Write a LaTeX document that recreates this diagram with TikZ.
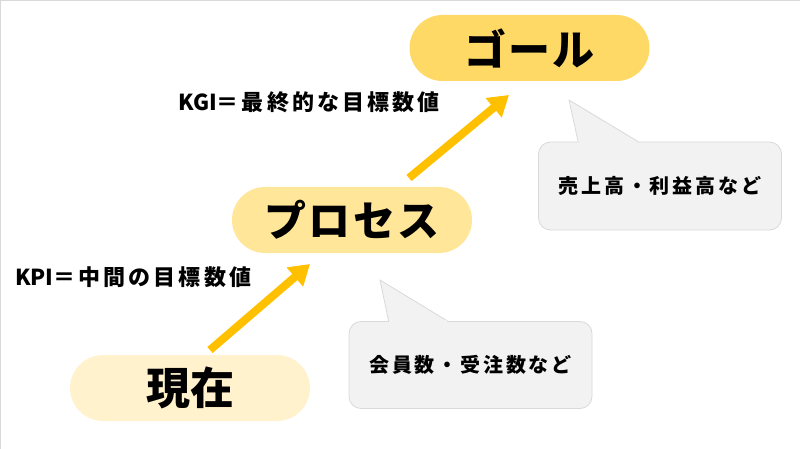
\documentclass[tikz,border=0pt]{standalone}
\usepackage{fontspec}
\setmainfont{Noto Sans CJK JP}
\newfontfamily\jpwide{Noto Sans CJK JP}[LetterSpace=14]
\newfontfamily\jpbig{Noto Sans CJK JP}[LetterSpace=5]
\usetikzlibrary{positioning,arrows.meta,calc}

\definecolor{goalyellow}{HTML}{FFD966}
\definecolor{procyellow}{HTML}{FFE699}
\definecolor{nowyellow}{HTML}{FFF2CC}
\definecolor{arroworange}{HTML}{FFC000}
\definecolor{bubblegray}{HTML}{F2F2F2}
\definecolor{bubbleedge}{HTML}{D9D9D9}

\begin{document}
\begin{tikzpicture}[x=1pt, y=-1pt,
    pill/.style={rectangle, rounded corners=33pt, minimum width=240pt, minimum height=66pt, inner sep=0pt, font=\jpbig\bfseries\fontsize{42}{44}\selectfont},
    uparrow/.style={-{Triangle[width=24pt,length=20pt]}, line width=8pt, draw=arroworange},
    kpilabel/.style={anchor=west, inner sep=0pt, font=\bfseries\fontsize{22}{24}\selectfont},
    callout/.style={rectangle, rounded corners=12pt, fill=bubblegray, draw=bubbleedge, line width=0.8pt, minimum width=243pt, minimum height=87pt, font=\jpwide\bfseries\fontsize{20}{22}\selectfont},
    pointer/.style={fill=bubblegray, draw=bubbleedge, line width=0.8pt, line join=round}
]
\useasboundingbox (0,0) rectangle (800,449);

% Slide frame
\draw[gray!30, line width=1pt] (0.5,449) -- (0.5,0.5) -- (800,0.5);

% Steps
\node[pill, fill=nowyellow, font=\bfseries\fontsize{44}{46}\selectfont] (now) at (190,388) {現在};
\node[pill, fill=procyellow] (process) at (352,220) {プロセス};
\node[pill, fill=goalyellow] (goal) at (529.5,48) {ゴール};

% Indicators
\node[kpilabel] (kpi) at (15,277) {KPI{\jpwide ＝中間の目標数値}};
\node[kpilabel] (kgi) at (178,102) {KGI{\jpwide ＝最終的な目標数値}};

% Arrows
\coordinate (kpitail) at (210,350);
\coordinate (kpitip) at (310,264);
\coordinate (kgitail) at (409,178);
\coordinate (kgitip) at (509,95);
\draw[uparrow] (kpitail) -- (kpitip);
\draw[uparrow] (kgitail) -- (kgitip);

% Callouts
\node[callout] (members) at (470.5,365) {会員数・受注数など};
\coordinate (membersapex) at (380,280);
\draw[pointer] ($(members.north west)+(40,0)$) -- (membersapex) -- ($(members.north west)+(99,0)$);
\fill[bubblegray] ($(members.north west)+(40.6,1)$) -- ($(members.north west)+(98,1)$) -- ($(members.north west)+(98,-1)$) -- ($(members.north west)+(40.6,-1)$) -- cycle;

\node[callout, minimum height=88pt] (sales) at (660,186) {売上高・利益高など};
\coordinate (salesapex) at (569,100);
\draw[pointer] ($(sales.north west)+(40,0)$) -- (salesapex) -- ($(sales.north west)+(100,0)$);
\fill[bubblegray] ($(sales.north west)+(40.6,1)$) -- ($(sales.north west)+(99,1)$) -- ($(sales.north west)+(99,-1)$) -- ($(sales.north west)+(40.6,-1)$) -- cycle;

\end{tikzpicture}
\end{document}
